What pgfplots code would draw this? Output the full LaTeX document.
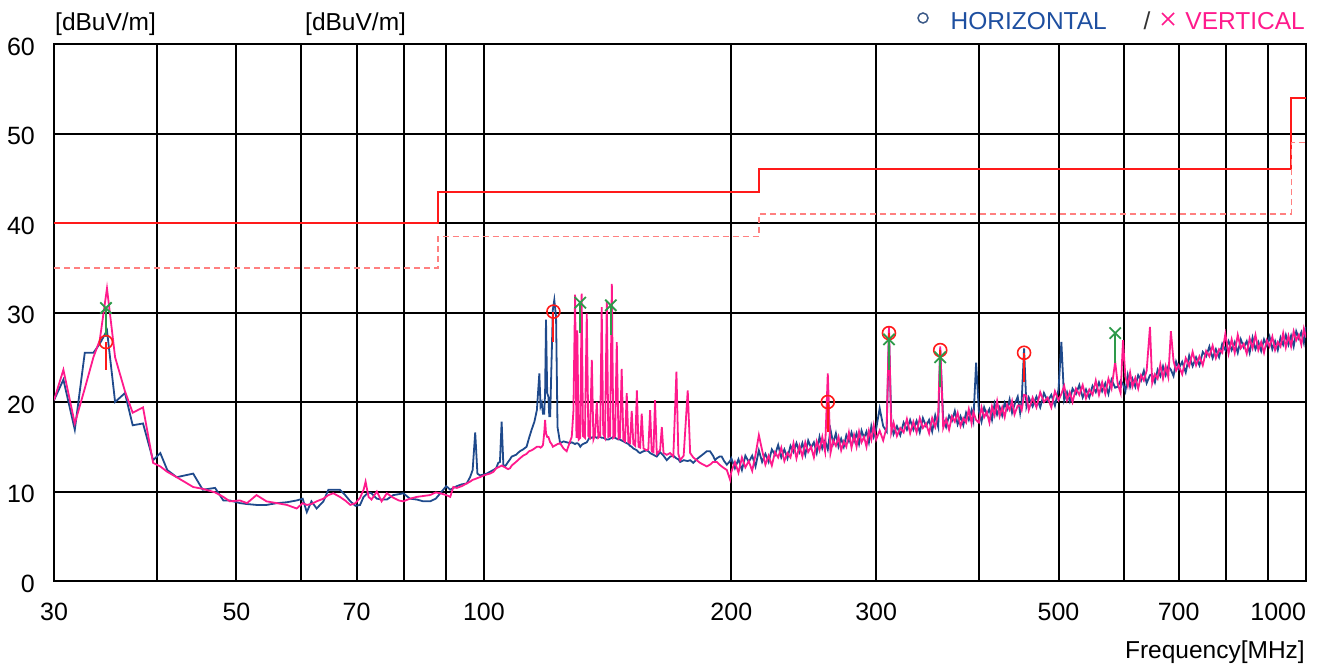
\documentclass[border=0pt]{standalone}
\usepackage{fontspec}
\setmainfont{Liberation Sans}
\usepackage{pgfplots}
\usepackage{pgfplotstable}
\pgfplotsset{compat=1.18}
\definecolor{navyc}{HTML}{1F4A8C}
\definecolor{pinkc}{HTML}{FF1A8C}
\definecolor{limred}{HTML}{FF1A1A}
\definecolor{margc}{HTML}{FF8080}
\definecolor{grnc}{HTML}{2E9A4A}
\definecolor{legblue}{HTML}{1E4FA0}
\pgfplotstableread{
f H V
30.0 20.2 20.2
30.8 22.5 23.6
31.8 16.9 17.6
32.7 25.5 21.5
33.5 25.5 25.0
34.1 26.5 26.9
34.8 28.0 32.7
35.6 20.0 25.0
36.6 21.0 21.2
37.4 17.4 18.8
38.5 17.6 19.4
39.6 13.5 13.2
40.4 14.3 12.8
41.2 12.4 12.2
42.3 11.6 11.6
44.3 12.0 10.5
45.5 10.2 10.3
47.1 10.4 9.9
48.2 9.0 9.4
49.1 9.0 8.9
50.5 8.7 9.0
51.5 8.6 8.7
52.9 8.5 9.6
54.4 8.5 8.9
56.0 8.7 8.7
57.6 8.8 8.5
59.2 9.0 8.1
60.2 9.2 8.7
60.9 7.7 8.5
61.7 8.9 8.6
62.6 8.1 8.9
63.8 8.9 9.2
64.7 10.2 9.6
65.6 10.2 9.8
66.8 10.2 9.4
67.8 9.6 9.0
68.8 8.9 8.5
69.8 8.4 8.7
70.7 8.5 9.3
71.4 9.4 10.2
71.8 9.6 11.1
72.4 9.9 9.4
73.0 9.8 9.1
74.1 9.2 10.0
75.1 9.1 8.9
76.2 9.1 9.8
77.6 9.6 9.3
78.8 9.7 9.0
79.8 9.8 8.9
81.3 9.2 9.2
82.9 9.1 9.4
84.4 8.9 9.5
86.0 8.9 9.6
87.4 9.2 9.9
88.5 9.8 9.8
90.0 10.6 9.6
91.0 10.2 9.4
91.8 10.4 10.5
92.7 10.6 10.4
94.0 10.8 10.6
95.3 10.9 10.9
96.2 11.6 11.1
96.9 12.4 11.3
97.6 16.6 11.4
98.2 12.0 11.5
98.9 11.8 11.6
100.0 11.9 11.8
100.8 12.0 11.9
101.7 12.2 12.0
102.7 12.4 12.2
103.5 12.6 12.6
104.1 13.2 12.7
104.6 13.3 12.8
105.1 17.8 12.9
105.6 13.0 12.8
106.1 12.8 12.7
107.0 13.3 12.5
107.6 13.6 12.6
108.1 13.9 12.9
109.4 14.1 13.3
110.6 14.5 13.7
111.6 14.7 14.0
112.7 15.0 14.2
113.5 16.0 14.5
114.3 16.9 14.6
115.2 17.8 14.8
116.0 19.1 15.0
116.8 23.2 15.0
117.2 19.5 14.9
117.6 19.9 15.0
118.0 18.7 15.2
118.4 18.7 16.5
118.7 21.0 18.0
119.0 29.2 16.5
119.4 21.0 16.1
119.8 20.6 16.1
120.1 18.4 15.8
120.4 18.4 15.5
120.9 25.0 15.3
121.3 30.3 15.0
121.8 31.4 15.1
122.4 29.5 15.2
122.9 17.2 15.3
123.8 15.4 15.4
125.0 15.6 14.8
126.1 15.5 14.5
127.3 15.4 15.6
127.9 15.5 16.1
128.5 15.4 19.0
129.1 15.3 32.0
129.6 15.4 16.0
129.9 15.4 28.0
130.4 15.3 15.8
131.0 15.0 16.0
131.5 15.2 32.1
132.0 15.3 16.2
132.7 15.4 16.0
133.4 15.5 29.9
134.0 15.8 16.2
134.6 16.1 16.0
135.3 16.0 24.7
135.9 16.1 15.8
136.5 16.1 16.3
137.2 16.0 20.0
137.8 16.1 16.0
138.5 16.1 16.2
139.1 16.0 30.6
139.7 16.0 16.4
140.4 15.9 16.0
141.1 15.8 31.2
141.7 15.8 16.1
142.4 15.9 16.2
143.1 16.0 33.2
143.7 16.1 16.0
144.4 16.0 16.2
145.1 15.9 26.7
145.8 15.8 15.9
146.4 15.8 16.0
147.1 15.7 23.7
147.8 15.6 15.8
148.5 15.5 15.6
149.2 15.4 21.0
149.9 15.3 15.5
150.6 15.1 15.4
151.3 15.0 19.0
152.0 14.8 15.3
152.8 14.7 15.1
153.5 14.6 21.3
154.2 14.4 15.0
154.9 14.3 14.9
155.6 14.4 18.7
156.4 14.5 14.8
157.8 14.6 14.6
158.5 14.5 14.7
159.3 14.3 19.1
160.0 14.2 14.5
160.8 14.1 14.4
161.5 14.0 20.2
162.3 13.9 14.2
163.8 14.4 14.6
164.6 14.2 17.2
165.4 14.0 14.3
166.9 13.5 14.1
168.5 13.9 14.3
170.0 14.0 13.9
171.5 13.7 23.4
172.4 13.6 14.2
173.3 13.3 13.5
175.0 13.5 14.0
177.0 13.4 21.3
178.2 13.5 14.3
179.8 13.2 13.8
181.5 13.6 13.5
183.2 13.9 13.2
185.0 14.2 13.0
186.7 14.5 12.8
188.4 14.5 13.0
190.0 14.0 13.3
191.1 13.5 13.3
192.0 13.7 13.3
193.5 13.9 13.0
194.7 13.9 12.8
196.0 13.4 12.6
197.5 13.0 12.4
199.3 13.4 11.3
200 13.7 12.2
202 12.6 13.3
204 13.6 12.1
206 12.4 13.8
208 14.0 12.7
210 13.3 13.4
212 14.0 12.3
214 12.8 14.1
216 14.6 16.3
218 13.3 14.6
220 14.2 13.0
222 13.3 14.0
224 14.7 12.9
226 14.1 14.4
228 15.2 13.8
230 13.8 14.9
232 14.7 13.4
234 13.7 14.3
236 15.1 13.8
238 14.4 15.4
240 15.4 13.7
242 14.4 15.1
244 15.4 13.9
246 14.1 15.5
248 15.7 14.4
250 14.9 15.0
252 15.5 13.8
254 14.3 15.6
256 16.1 14.6
258 14.8 16.1
260 15.7 14.5
262 14.7 23.2
264 16.9 14.3
266 15.4 15.7
268 16.5 15.1
270 15.0 16.1
272 15.9 14.6
274 15.0 15.6
276 16.3 15.0
278 15.6 16.6
280 16.6 14.9
282 15.6 16.3
284 16.5 15.0
286 15.3 16.7
288 16.8 15.5
290 16.0 16.1
292 16.7 15.0
294 15.5 16.8
296 17.3 15.8
298 16.1 17.4
300 17.0 15.8
303 19.3 16.8
306 17.3 15.7
309 16.7 17.2
311 27.9 28.4
313 17.8 16.6
315 16.4 17.7
318 17.3 16.2
321 16.3 17.1
324 17.7 16.6
327 16.9 18.1
330 18.0 16.5
333 16.9 17.8
336 17.9 16.6
339 16.6 18.2
342 18.2 17.1
345 17.3 17.6
348 18.0 16.5
351 16.7 18.2
354 18.5 17.2
357 17.2 18.7
359 26.0 26.2
362 18.1 17.1
365 17.2 18.1
368 18.5 16.9
371 17.9 18.4
374 19.0 17.8
377 17.5 18.8
380 18.4 17.3
383 17.4 18.2
386 18.8 17.7
389 18.0 19.2
392 19.1 17.6
394 18.0 18.9
397 24.4 18.0
400 19.0 17.7
403 17.8 19.4
406 19.4 18.3
409 18.6 18.9
412 19.2 17.7
415 18.0 19.5
418 19.8 18.5
421 18.6 20.1
424 19.4 18.4
427 18.5 19.4
430 19.9 18.3
433 19.2 19.7
436 20.3 19.1
439 18.8 20.1
442 19.7 18.6
446 20.6 19.6
449 18.8 19.6
451 20.2 19.1
454 26.0 20.8
457 19.5 20.7
460 20.5 19.1
465 19.5 20.5
470 20.6 19.4
475 19.4 21.1
480 21.0 20.0
485 20.1 20.5
490 20.8 19.4
495 19.6 21.2
500 21.4 20.2
504 26.7 20.9
508 20.2 21.8
512 21.1 20.2
516 20.1 21.1
520 21.5 20.0
525 20.9 21.5
530 21.9 20.8
535 20.5 21.9
540 21.4 20.4
545 20.5 21.4
550 21.8 20.8
555 21.1 22.4
560 22.2 20.8
565 21.2 22.2
570 22.1 20.9
575 20.9 22.6
580 22.5 21.5
586 21.6 24.5
590 21.7 22.1
595 22.4 21.0
599 22.0 26.9
603 21.2 22.8
607 23.0 21.8
611 21.7 23.3
615 22.6 21.7
620 21.7 22.7
625 23.0 21.5
630 22.4 23.0
635 23.5 22.4
640 22.1 23.5
646 23.0 28.4
650 23.1 22.1
655 22.2 23.1
660 23.6 22.6
665 22.9 24.2
670 24.0 22.6
675 23.0 24.0
680 24.0 22.8
685 23.6 27.9
690 22.9 24.6
695 24.5 23.5
700 23.7 24.1
707 24.5 23.1
714 23.3 24.9
721 25.2 24.0
728 24.0 25.6
735 25.0 24.1
742 24.1 25.1
749 25.6 24.1
756 25.1 25.7
763 26.2 25.1
770 24.9 26.3
777 25.9 24.9
784 25.0 25.9
791 26.5 25.5
798 25.8 27.6
805 26.8 25.4
812 25.8 27.0
819 26.7 25.5
826 25.5 27.5
833 27.0 26.0
840 26.1 26.5
847 26.8 25.4
854 25.5 27.1
861 27.2 26.0
868 25.9 27.5
875 26.7 25.8
882 25.7 26.7
889 27.0 25.5
896 26.3 26.9
903 27.3 26.2
910 25.9 27.3
917 26.8 25.8
924 25.8 26.7
931 27.2 26.2
938 26.4 27.7
945 27.5 26.1
952 26.4 27.4
959 27.4 26.2
966 26.2 27.9
973 27.9 26.9
980 27.1 27.5
987 27.8 26.4
994 26.6 28.2
1000 28.4 27.2
}\emi
\begin{document}
\begin{tikzpicture}[x=1pt,y=1pt]
\useasboundingbox (-54,-86) rectangle (1270,581);
\begin{axis}[
  at={(0,0)}, anchor=south west,
  scale only axis, width=1252pt, height=537pt,
  xmode=log, xmin=30, xmax=1000, ymin=0, ymax=60,
  xtick={30,50,70,100,200,300,500,700,1000},
  xticklabels={30,50,70,100,200,300,500,700,\makebox[0pt][r]{1000}},
  minor xtick={40,60,80,90,400,600,800,900},
  ytick={0,10,20,30,40,50,60},
  grid=both,
  major grid style={black, line width=2pt},
  minor grid style={black, line width=2pt},
  axis line style={black, line width=2pt},
  major tick length=0pt, minor tick length=0pt,
  tick style={draw=none},
  tick label style={font=\fontsize{25}{30}\selectfont},
  /pgf/number format/assume math mode=true,
  xticklabel style={anchor=base, yshift=-39pt},
  yticklabel style={anchor=east, inner sep=0pt, xshift=-19pt, yshift=-2.5pt},
]
% limit and margin lines
\addplot[limred, line width=2pt] coordinates {(30,40) (88,40) (88,43.5) (216,43.5) (216,46) (960,46) (960,54) (1000,54)};
\addplot[margc, line width=1.5pt, dash pattern=on 6pt off 4pt] coordinates {(30,35) (88,35) (88,38.5) (216,38.5) (216,41) (960,41) (960,49) (1000,49)};
% traces
\addplot[navyc, line width=1.8pt] table[x=f,y=H]{\emi};
\addplot[pinkc, line width=1.8pt] table[x=f,y=V]{\emi};
% marker stems
\addplot[limred, line width=2pt] coordinates {(34.7,23.6) (34.7,26.7)};
\addplot[limred, line width=2pt] coordinates {(121.5,26.7) (121.5,30.1)};
\addplot[limred, line width=2pt] coordinates {(262,16.6) (262,20.0)};
\addplot[limred, line width=2pt] coordinates {(311,24.0) (311,27.7)};
\addplot[limred, line width=2pt] coordinates {(359,22.0) (359,25.8)};
\addplot[limred, line width=2pt] coordinates {(454,22.2) (454,25.5)};
\addplot[grnc, line width=2pt] coordinates {(34.7,27.3) (34.7,30.5)};
\addplot[grnc, line width=2pt] coordinates {(131.0,27.7) (131.0,31.1)};
\addplot[grnc, line width=2pt] coordinates {(142.7,27.5) (142.7,30.8)};
\addplot[grnc, line width=2pt] coordinates {(311,23.6) (311,27.0)};
\addplot[grnc, line width=2pt] coordinates {(359,21.7) (359,25.0)};
\addplot[grnc, line width=2pt] coordinates {(586,24.4) (586,27.7)};
% markers
\addplot[only marks, mark=o, mark size=6.5pt, limred, line width=1.6pt] coordinates {(34.7,26.7) (121.5,30.1) (262,20.0) (311,27.7) (359,25.8) (454,25.5)};
\addplot[only marks, mark=x, mark size=8pt, grnc, line width=1.8pt] coordinates {(34.7,30.5) (131.0,31.1) (142.7,30.8) (311,27.0) (359,25.0) (586,27.7)};
\end{axis}
\begin{scope}[every node/.style={inner sep=0pt, font=\fontsize{24.5}{29}\selectfont}]
\node[anchor=base west] at (1,550) {[dBuV/m]};
\node[anchor=base west] at (251,550) {[dBuV/m]};
\draw[navyc!70!gray, line width=1.5pt] (869,563) circle (5);
\node[anchor=base east, text=legblue] at (1053,551) {HORIZONTAL};
\node[anchor=base, text=black!80] at (1093,551) {/};
\draw[pinkc, line width=1.5pt] (1108,556) -- (1120,568) (1108,568) -- (1120,556);
\node[anchor=base east, text=pinkc] at (1251,551) {VERTICAL};
\node[anchor=base east] at (1251,-77) {Frequency[MHz]};
\end{scope}
\end{tikzpicture}
\end{document}
